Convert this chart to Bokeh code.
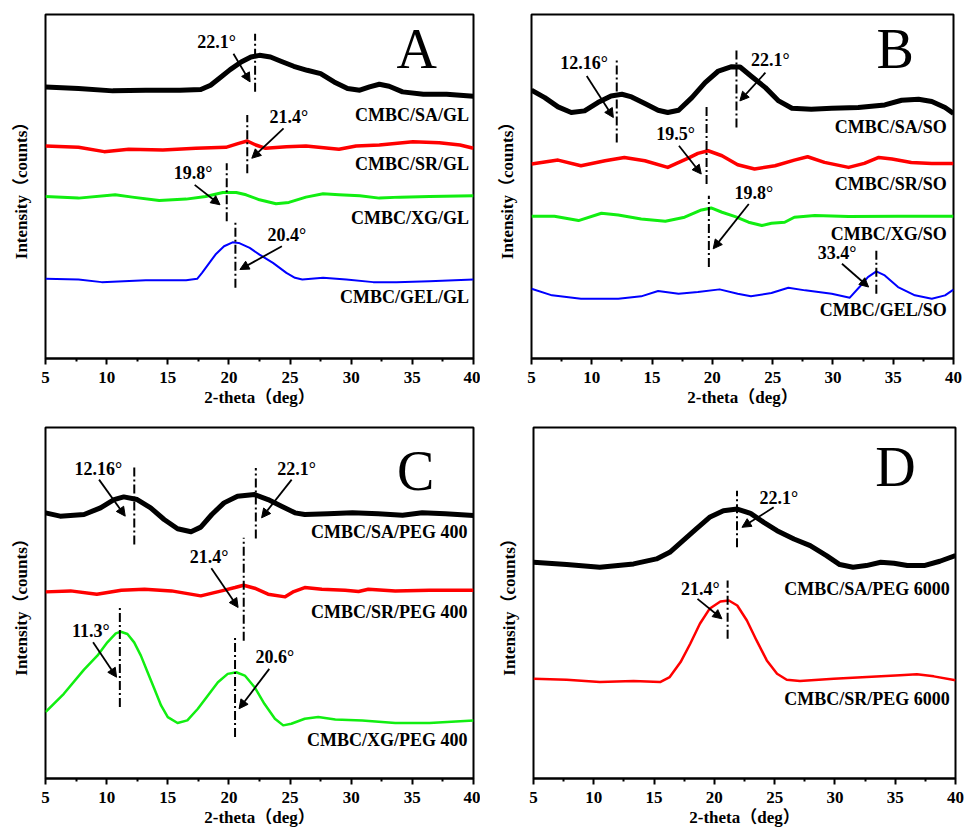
from bokeh.plotting import figure
from bokeh.layouts import column, row
from bokeh.models import Range1d, FixedTicker, Arrow, NormalHead
from bokeh.core.properties import value
from bokeh.embed import file_html
from bokeh.resources import INLINE

FONT = "'Liberation Serif', 'Noto Sans CJK SC'"
TICKS = [5, 10, 15, 20, 25, 30, 35, 40]
MINOR = [7.5, 12.5, 17.5, 22.5, 27.5, 32.5, 37.5]
BLACK, RED, GREEN, BLUE = "#000000", "#ff0000", "#11ee11", "#0000ff"

# ---------------- Panel A (GL) ----------------
A_SA_x = [5, 7.7, 10.5, 13.2, 16.0, 17.7, 18.5, 19.3, 20.1, 21.0, 21.8, 22.5, 23.4, 24.2, 25.3, 26.4, 27.5, 28.6, 29.7, 30.7, 31.5, 32.3, 33.1, 34.2, 35.9, 37.8, 40]
A_SA_y = [818, 813, 806, 808, 808, 810, 823, 846, 870, 893, 908, 913, 908, 896, 880, 868, 858, 833, 813, 808, 818, 826, 820, 803, 796, 796, 790]
A_SR_x = [5, 7.7, 9.8, 11.8, 14.6, 17.3, 19.75, 20.8, 21.5, 22.2, 23.0, 24.7, 26.3, 29.0, 30.4, 32.3, 35.05, 37.2, 38.9, 40]
A_SR_y = [640, 636, 623, 630, 628, 633, 636, 648, 655, 643, 633, 638, 640, 630, 640, 643, 653, 650, 643, 633]
A_XG_x = [5, 7.7, 10.7, 12.1, 14.3, 16.5, 18.1, 19.5, 20.6, 21.4, 22.5, 23.85, 24.9, 26.3, 27.7, 29.0, 30.7, 32.3, 34.0, 36.4, 40]
A_XG_y = [488, 483, 493, 486, 476, 480, 488, 500, 500, 493, 478, 466, 470, 486, 496, 493, 490, 483, 486, 488, 490]
A_GEL_x = [5, 7.7, 9.6, 13.2, 16.5, 17.4, 17.8, 18.4, 18.9, 19.6, 20.3, 20.8, 21.7, 22.5, 23.6, 24.7, 25.4, 26.0, 27.7, 29.6, 31.8, 33.7, 36.4, 40]
A_GEL_y = [240, 238, 230, 236, 236, 240, 258, 288, 313, 338, 350, 348, 333, 313, 288, 258, 243, 238, 243, 238, 230, 230, 233, 238]
A_names = ["CMBC/SA/GL", "CMBC/SR/GL", "CMBC/XG/GL", "CMBC/GEL/GL"]
A_name_y = [733, 586, 423, 185]
# peak marks: label, line x, line y0, y1, label x, y, arrow x0, y0, x1, y1
A_peaks = [
    ("22.1°", 22.14, 803, 978, 19.0, 953, 20.37, 918, 21.73, 833),
    ("21.4°", 21.5, 558, 733, 24.9, 726, 24.47, 693, 21.87, 603),
    ("19.8°", 19.82, 413, 588, 17.08, 560, 17.2, 523, 19.27, 463),
    ("20.4°", 20.53, 213, 418, 24.74, 373, 24.33, 338, 20.9, 268),
]

# ---------------- Panel B (SO) ----------------
B_SA_x = [5, 6.1, 7.2, 8.3, 9.4, 10.5, 11.6, 12.5, 13.3, 14.4, 15.5, 16.3, 17.2, 18.3, 19.4, 20.5, 21.6, 22.3, 23.2, 24.4, 25.5, 26.6, 28.2, 29.9, 32.1, 34.3, 35.7, 37.1, 38.2, 39.3, 40]
B_SA_y = [807, 785, 757, 740, 745, 770, 790, 795, 787, 767, 747, 740, 747, 785, 830, 865, 878, 877, 850, 815, 775, 753, 750, 753, 755, 763, 777, 780, 773, 755, 737]
B_SR_x = [5, 7.2, 9.1, 11.1, 12.7, 14.4, 16.3, 18.0, 18.8, 19.65, 20.8, 22.1, 23.5, 25.2, 26.8, 27.9, 29.3, 31.3, 32.6, 33.8, 34.9, 36.5, 38.2, 40]
B_SR_y = [585, 597, 580, 595, 605, 595, 575, 603, 617, 625, 610, 583, 570, 580, 597, 607, 590, 575, 587, 605, 600, 590, 587, 587]
B_XG_x = [5, 6.9, 8.9, 10.8, 12.2, 14.1, 16.1, 17.7, 19.1, 19.9, 20.8, 21.9, 23.0, 24.1, 24.9, 26.0, 26.8, 28.5, 31.3, 35.4, 40]
B_XG_y = [428, 428, 415, 437, 432, 420, 413, 425, 447, 453, 440, 427, 410, 400, 407, 410, 425, 430, 427, 428, 428]
B_GEL_x = [5, 6.7, 9.1, 12.2, 14.1, 15.5, 17.2, 18.8, 20.6, 22.1, 23.2, 24.9, 26.3, 27.7, 29.9, 31.4, 32.2, 32.9, 33.6, 34.3, 35.4, 36.8, 38.2, 39.3, 40]
B_GEL_y = [210, 190, 180, 180, 187, 203, 195, 200, 208, 195, 187, 197, 213, 205, 195, 183, 215, 245, 262, 250, 215, 190, 180, 190, 207]
B_names = ["CMBC/SA/SO", "CMBC/SR/SO", "CMBC/XG/SO", "CMBC/GEL/SO"]
B_name_y = [697, 525, 375, 145]
B_peaks = [
    ("12.16°", 12.07, 650, 905, 9.36, 890, 9.58, 850, 11.79, 725),
    ("22.1°", 22.0, 695, 935, 24.8, 897, 24.4, 860, 22.28, 775),
    ("19.5°", 19.52, 525, 765, 16.95, 675, 17.23, 640, 19.08, 555),
    ("19.8°", 19.71, 275, 490, 23.44, 497, 23.02, 465, 20.07, 330),
    ("33.4°", 33.6, 195, 330, 30.34, 317, 30.75, 285, 32.96, 215),
]

# ---------------- Panel C (PEG 400) ----------------
C_SA_x = [5, 6.2, 8.15, 9.5, 10.6, 11.4, 12.5, 13.6, 14.7, 15.8, 16.9, 17.7, 18.6, 19.6, 20.7, 22.1, 23.2, 24.3, 25.4, 26.2, 28.1, 30.1, 32.2, 34.2, 35.8, 37.7, 40]
C_SA_y = [800, 790, 795, 815, 840, 848, 840, 815, 780, 752, 743, 757, 795, 830, 850, 855, 840, 820, 800, 795, 797, 800, 797, 793, 800, 797, 792]
C_SR_x = [5, 7.05, 9.2, 11.2, 13.1, 15.3, 17.7, 19.4, 20.5, 21.2, 22.1, 23.2, 24.6, 25.3, 26.2, 27.6, 29.5, 30.6, 31.4, 33.6, 36.4, 40]
C_SR_y = [562, 565, 555, 567, 570, 565, 550, 565, 575, 582, 573, 555, 547, 563, 575, 570, 567, 563, 570, 565, 567, 567]
C_XG_x = [5, 6.5, 8.15, 9.24, 10.06, 10.75, 11.16, 11.7, 12.25, 12.8, 13.35, 13.9, 14.45, 15.0, 15.8, 16.6, 17.46, 18.28, 19.1, 19.9, 20.6, 21.3, 22.1, 22.9, 23.76, 24.44, 25.1, 26.2, 27.3, 28.7, 30.9, 33.6, 36.4, 40]
C_XG_y = [200, 255, 328, 370, 410, 437, 442, 435, 410, 370, 320, 270, 220, 185, 167, 175, 210, 250, 290, 315, 320, 310, 275, 225, 180, 160, 165, 180, 185, 178, 175, 167, 167, 175]
C_names = ["CMBC/SA/PEG 400", "CMBC/SR/PEG 400", "CMBC/XG/PEG 400"]
C_name_y = [743, 500, 115]
C_peaks = [
    ("12.16°", 12.26, 705, 945, 9.33, 933, 9.38, 900, 11.52, 790),
    ("22.1°", 22.2, 723, 935, 25.54, 933, 25.13, 900, 22.67, 785),
    ("21.4°", 21.21, 415, 725, 18.37, 667, 18.56, 633, 20.75, 515),
    ("11.3°", 11.08, 215, 520, 8.7, 445, 8.89, 410, 10.81, 305),
    ("20.6°", 20.5, 125, 430, 23.76, 365, 23.3, 330, 20.83, 210),
]

# ---------------- Panel D (PEG 6000) ----------------
D_SA_x = [5, 7.75, 10.5, 13.3, 15.2, 16.3, 17.4, 18.5, 19.6, 20.75, 21.9, 23.0, 24.1, 25.2, 26.6, 27.95, 29.3, 30.4, 31.5, 32.6, 33.8, 34.9, 36.0, 37.4, 38.7, 40]
D_SA_y = [650, 643, 635, 645, 660, 680, 715, 750, 785, 805, 810, 797, 770, 745, 720, 700, 670, 643, 635, 640, 650, 647, 640, 640, 653, 670]
D_SR_x = [5, 7.75, 10.5, 13.3, 15.5, 16.3, 17.2, 18.0, 18.8, 19.6, 20.5, 21.2, 21.9, 22.7, 23.5, 24.35, 25.2, 26.0, 27.1, 29.9, 32.65, 35.4, 36.8, 38.2, 40]
D_SR_y = [300, 297, 290, 293, 290, 305, 350, 405, 465, 510, 532, 535, 520, 475, 415, 355, 315, 297, 293, 300, 305, 310, 313, 307, 295]
D_names = ["CMBC/SA/PEG 6000", "CMBC/SR/PEG 6000"]
D_name_y = [570, 240]
D_peaks = [
    ("22.1°", 21.88, 695, 865, 25.34, 843, 24.92, 815, 22.29, 755),
    ("21.4°", 21.1, 420, 595, 18.84, 570, 18.6, 540, 20.63, 480),
]


def make_panel(w, h, bl, br, bt, bb, ymax, curves, names, name_x, name_y, peaks, letter, letter_xy):
    p = figure(width=w, height=h, x_range=Range1d(5, 40), y_range=Range1d(0, ymax),
               output_backend="svg", toolbar_location=None,
               min_border_left=bl, min_border_right=br, min_border_top=bt, min_border_bottom=bb)
    p.title.visible = False
    p.xgrid.visible = False
    p.ygrid.visible = False
    p.outline_line_color = "black"
    p.outline_line_width = 2
    p.outline_line_alpha = 1
    p.background_fill_color = "white"
    p.border_fill_color = "white"

    ax = p.xaxis[0]
    ax.ticker = FixedTicker(ticks=TICKS, minor_ticks=MINOR)
    ax.axis_line_width = 2
    ax.major_tick_in = 0
    ax.major_tick_out = 6
    ax.minor_tick_in = 0
    ax.minor_tick_out = 3
    ax.major_tick_line_width = 2
    ax.minor_tick_line_width = 2
    ax.major_label_text_font = FONT
    ax.major_label_text_font_size = "17px"
    ax.major_label_text_font_style = "bold"
    ax.major_label_text_color = "black"
    ax.major_label_standoff = 7
    ax.axis_label = "2-theta（deg）"
    ax.axis_label_text_font = FONT
    ax.axis_label_text_font_size = "17px"
    ax.axis_label_text_font_style = "bold"
    ax.axis_label_text_color = "black"
    ax.axis_label_standoff = 2

    ay = p.yaxis[0]
    ay.ticker = FixedTicker(ticks=[])
    ay.axis_line_color = None
    ay.major_tick_out = 0
    ay.major_tick_in = 0
    ay.minor_tick_out = 0
    ay.minor_tick_in = 0
    ay.major_label_standoff = 0
    ay.axis_label = "Intensity（counts）"
    ay.axis_label_text_font = FONT
    ay.axis_label_text_font_size = "17px"
    ay.axis_label_text_font_style = "bold"
    ay.axis_label_text_color = "black"
    ay.axis_label_standoff = 15

    for xs, ys, col, lw in curves:
        p.line(xs, ys, line_color=col, line_width=lw, line_join="round")

    p.text(x=[name_x] * len(names), y=name_y, text=names, text_font=value(FONT),
           text_font_size="18px", text_font_style="bold", text_color="black",
           text_align="right", text_baseline="middle")

    for lab, lx, y0, y1, tx, ty, ax0, ay0, ax1, ay1 in peaks:
        p.segment(x0=[lx], y0=[y0], x1=[lx], y1=[y1], line_color="black",
                  line_width=2, line_dash="9 3 2 3")
        p.text(x=[tx], y=[ty], text=[lab], text_font=value(FONT), text_font_size="18px",
               text_font_style="bold", text_color="black", text_align="center",
               text_baseline="middle")
        p.add_layout(Arrow(end=NormalHead(size=9, fill_color="black", line_color="black", line_width=1),
                           x_start=ax0, y_start=ay0, x_end=ax1, y_end=ay1,
                           line_color="black", line_width=1.8))

    p.text(x=[letter_xy[0]], y=[letter_xy[1]], text=[letter], text_font=value(FONT),
           text_font_size="56px", text_color="black", text_align="center", text_baseline="middle")
    return p


pA = make_panel(480, 412, 45, 7, 14, 53, 1036,
                [(A_SA_x, A_SA_y, BLACK, 5), (A_SR_x, A_SR_y, RED, 3.5),
                 (A_XG_x, A_XG_y, GREEN, 3), (A_GEL_x, A_GEL_y, BLUE, 2)],
                A_names, 39.64, A_name_y, A_peaks, "A", (35.35, 933))
pB = make_panel(486, 412, 51, 13, 13, 54, 1035,
                [(B_SA_x, B_SA_y, BLACK, 5), (B_SR_x, B_SR_y, RED, 3.5),
                 (B_XG_x, B_XG_y, GREEN, 3), (B_GEL_x, B_GEL_y, BLUE, 2)],
                B_names, 39.45, B_name_y, B_peaks, "B", (35.17, 930))
pC = make_panel(480, 418, 45, 7, 14, 52, 1057,
                [(C_SA_x, C_SA_y, BLACK, 5), (C_SR_x, C_SR_y, RED, 3.5),
                 (C_XG_x, C_XG_y, GREEN, 2.5)],
                C_names, 39.51, C_name_y, C_peaks, "C", (35.27, 925))
pD = make_panel(486, 418, 53, 11, 15, 52, 1055,
                [(D_SA_x, D_SA_y, BLACK, 5), (D_SR_x, D_SR_y, RED, 2.5)],
                D_names, 39.53, D_name_y, D_peaks, "D", (35.02, 935))

layout = column(row(pA, pB), row(pC, pD))
open("out.html", "w").write(file_html(layout, INLINE))
